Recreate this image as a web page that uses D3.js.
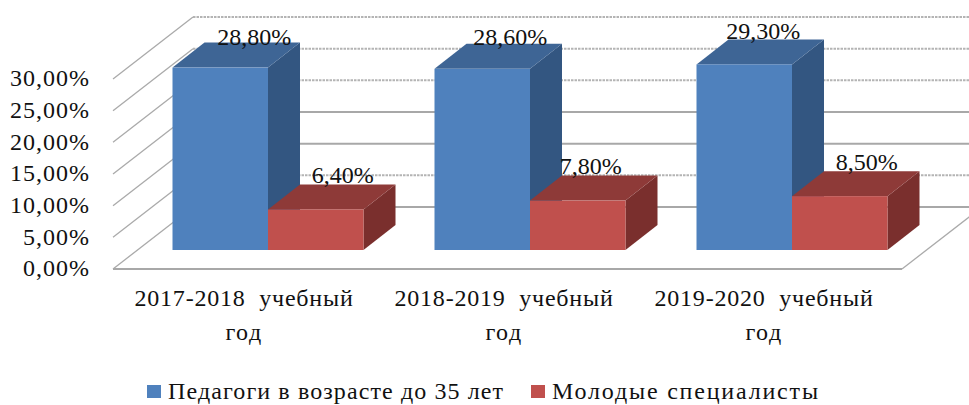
<!DOCTYPE html>
<html>
<head>
<meta charset="utf-8">
<script src="https://cdnjs.cloudflare.com/ajax/libs/d3/7.8.5/d3.min.js"></script>
<style>
  html, body { margin: 0; padding: 0; background: #fff; }
  text { font-family: "Liberation Serif", serif; fill: #111; }
</style>
</head>
<body>
<div id="container"></div>
<script>
let w = 969;
let h = 405;

let categories = ["2017-2018  учебный", "2018-2019  учебный", "2019-2020  учебный"];
let categoryLine2 = ["год", "год", "год"];
let seriesNames = ["Педагоги в возрасте до 35 лет", "Молодые специалисты"];
let teachers = [28.8, 28.6, 29.3];
let young = [6.4, 7.8, 8.5];
let yTicks = [0, 5, 10, 15, 20, 25, 30];

// small hand offsets for the value labels, they are not regular in the picture
let labelNudgeX = [[6, 0, -9], [-1, -15, -1]];
let labelNudgeY = [[2, 1, 0], [-1, -2, -1]];

let colors = [
  {front: "#4f81bd", top: "#3e6595", side: "#335681"},
  {front: "#c0504d", top: "#8e3a38", side: "#7a2f2d"}
];

let viz = d3.select("#container")
.append("svg")
.attr("width", w)
.attr("height", h)
.style("display", "block")
.style("background-color", "white")
;

// scales
let xScale = d3.scaleBand().domain(categories).range([137, 923]);
let catScale = d3.scalePoint().domain(categories).range([244, 764]);  // labels sit left of the groups
let innerScale = d3.scaleBand().domain([0, 1]).range([0, 191]);
let yBack = d3.scaleLinear().domain([0, 30]).range([269, 79]);   // left edge of the walls
let barHeight = d3.scaleLinear().domain([0, 30]).range([0, 190]);
let fmt = d => d.toFixed(2).replace(".", ",") + "%";

let floorY = 250;
let wallDx = 80, wallDy = -62;
let depthDx = 32, depthDy = -25;
let floorLeft = 113, floorRight = 902;

// gridlines and the side wall
let gridGroup = viz.append("g").attr("class", "grid");
let rough = [30, 25, 20, 5];
gridGroup.selectAll("path.line").data(yTicks).enter()
.append("path")
.attr("class", "line")
.attr("fill", "none")
.attr("stroke", d => rough.includes(d) ? "#b4b4b4" : "#a8a8a8")
.attr("stroke-width", 2)
.attr("stroke-dasharray", d => rough.includes(d) ? "2.5,1" : null)
.attr("d", d => {
  let y = yBack(d);
  return "M" + (floorLeft + wallDx) + "," + (y + wallDy) + "H" + (floorRight + wallDx);
});
gridGroup.selectAll("path.wall").data(yTicks).enter()
.append("path")
.attr("class", "wall")
.attr("fill", "none")
.attr("stroke", "#aaa")
.attr("stroke-width", 1.3)
.attr("d", d => {
  let y = yBack(d);
  return "M" + floorLeft + "," + y + "L" + (floorLeft + wallDx) + "," + (y + wallDy);
});

// floor, front edge and right edge
viz.append("path")
.attr("fill", "none")
.attr("stroke", "#a8a8a8")
.attr("stroke-width", 2)
.attr("d", "M" + floorLeft + "," + yBack(0) + "H" + floorRight);
viz.append("path")
.attr("fill", "none")
.attr("stroke", "#aaa")
.attr("stroke-width", 1.3)
.attr("d", "M" + floorRight + "," + yBack(0) + "L" + (floorRight + wallDx) + "," + (yBack(0) + wallDy));

// y labels
let yAxisGroup = viz.append("g").attr("class", "yAxis");
let yAxis = d3.axisLeft(yBack).tickValues(yTicks).tickSize(0).tickPadding(0).tickFormat(fmt);
yAxisGroup.call(yAxis);
yAxisGroup.attr("transform", "translate(90,-1)");
yAxisGroup.select(".domain").remove();
yAxisGroup.selectAll("text")
.style("font-family", '"Liberation Serif", serif')
.style("font-size", "24px")
.style("letter-spacing", "1px")
.style("fill", "#111");

// bars, blue first then red so red top covers the blue side
let rows = categories.map((c, i) => ({cat: c, i: i, vals: [teachers[i], young[i]]}));

[0, 1].forEach(function(s){
  let barGroups = viz.selectAll(".bars" + s).data(rows).enter()
  .append("g")
  .attr("class", "bars" + s)
  .attr("transform", d => "translate(" + (xScale(d.cat) + 35.5 + innerScale(s)) + "," + floorY + ")");

  let bw = innerScale.bandwidth();

  barGroups.append("path")
  .attr("fill", colors[s].side)
  .attr("d", d => {
    let t = -barHeight(d.vals[s]);
    return "M" + bw + "," + t + "l" + depthDx + "," + depthDy + "V" + depthDy + "L" + bw + ",0Z";
  });
  barGroups.append("path")
  .attr("fill", colors[s].top)
  .attr("d", d => {
    let t = -barHeight(d.vals[s]);
    return "M0," + t + "l" + depthDx + "," + depthDy + "h" + bw + "l" + (-depthDx) + "," + (-depthDy) + "Z";
  });
  barGroups.append("rect")
  .attr("x", 0)
  .attr("width", bw)
  .attr("y", d => -barHeight(d.vals[s]))
  .attr("height", d => barHeight(d.vals[s]))
  .attr("fill", colors[s].front);
});

// value labels on top of everything
[0, 1].forEach(function(s){
  viz.selectAll(".val" + s).data(rows).enter()
  .append("text")
  .attr("class", "val" + s)
  .attr("text-anchor", "middle")
  .attr("font-size", 24)
  .attr("x", d => xScale(d.cat) + 35.5 + innerScale(s) + innerScale.bandwidth() / 2 + 28 + labelNudgeX[s][d.i])
  .attr("y", d => floorY - barHeight(d.vals[s]) - 25 + labelNudgeY[s][d.i])
  .text(d => fmt(d.vals[s]));
});

// category labels
let catGroups = viz.selectAll(".cat").data(rows).enter()
.append("g")
.attr("class", "cat")
.attr("transform", d => "translate(" + catScale(d.cat) + ",0)");

catGroups.append("text")
.attr("text-anchor", "middle")
.attr("y", 306)
.attr("font-size", 24)
.style("white-space", "pre")
.style("letter-spacing", "0.8px")
.text(d => d.cat);
catGroups.append("text")
.attr("text-anchor", "middle")
.attr("y", 340)
.attr("font-size", 24)
.style("letter-spacing", "1.5px")
.text(d => categoryLine2[d.i]);

// legend
let legendX = [147, 531];
let legendTextLen = [335, 266];
let legend = viz.selectAll(".legend").data(seriesNames).enter()
.append("g")
.attr("class", "legend")
.attr("transform", (d, i) => "translate(" + legendX[i] + ",0)");
legend.append("rect")
.attr("y", 385)
.attr("width", 14)
.attr("height", 13)
.attr("fill", (d, i) => colors[i].front);
legend.append("text")
.attr("x", 21)
.attr("y", 399)
.attr("font-size", 24)
.attr("textLength", (d, i) => legendTextLen[i])
.attr("lengthAdjust", "spacing")
.text(d => d);
</script>
</body>
</html>
